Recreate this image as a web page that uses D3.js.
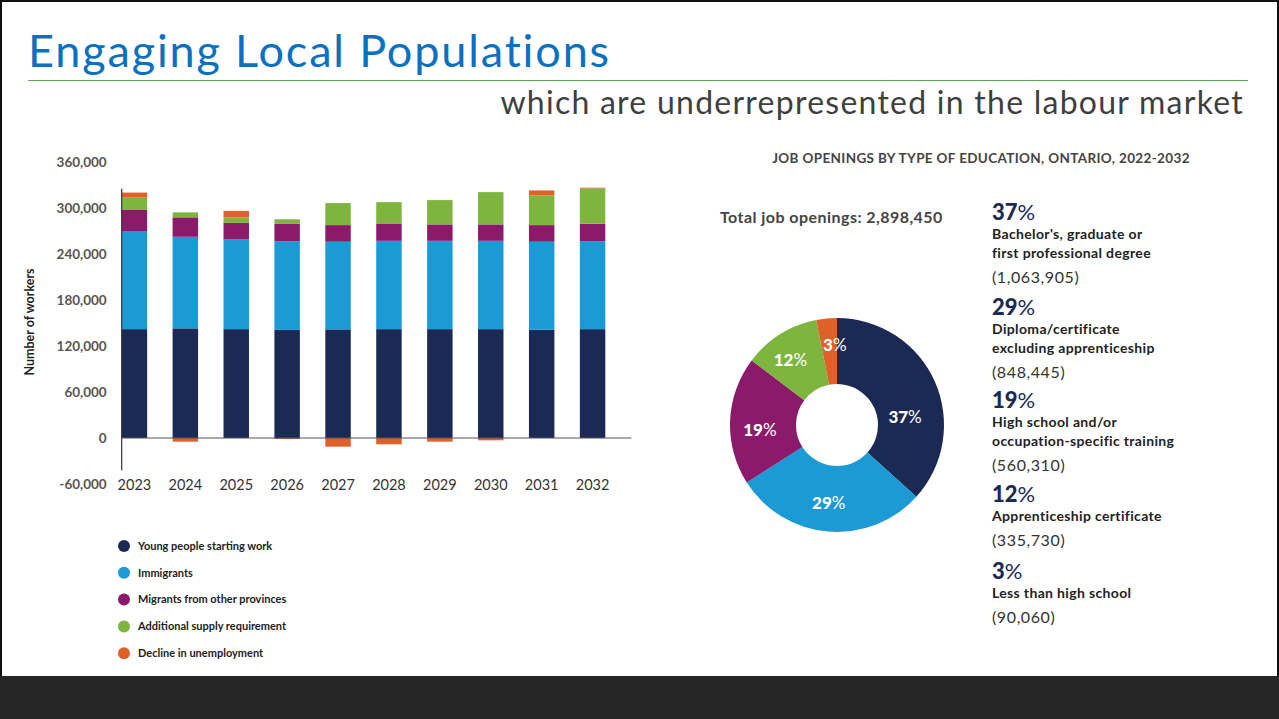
<!DOCTYPE html>
<html><head><meta charset="utf-8">
<script src="https://cdn.jsdelivr.net/npm/d3@7"></script>
<style>
html,body{margin:0;padding:0;background:#fff;}
svg{display:block;}
text{font-family:Lato,"Open Sans",sans-serif;}
</style></head>
<body>
<svg id="chart" width="1279" height="719"></svg>
<script>
// ---- Bar chart data (Number of workers) ----
const years = ["2023","2024","2025","2026","2027","2028","2029","2030","2031","2032"];
const youngPeople = [142000,143000,142000,141000,141700,142000,142000,142000,141200,142000];
const immigrants  = [128000,119500,117000,115700,114300,115200,115200,115200,114800,114800];
const migrants    = [27400,25300,21600,23000,21700,22600,21400,21400,21700,22700];
const additional  = [16200,6500,7000,5600,28700,27800,31700,42100,38700,46000];
const declineUnemp= [6500,-4800,8600,-1300,-11300,-8200,-4800,-3000,6500,1000];
const seriesNames = ["Young people starting work","Immigrants","Migrants from other provinces","Additional supply requirement","Decline in unemployment"];
const seriesColors = ["#1b2a55","#1b9ad6","#8b1a6b","#7db53f","#e0602a"];
const yTickValues = [-60000,0,60000,120000,180000,240000,300000,360000];

// ---- Donut data ----
const eduNames = [["Bachelor's, graduate or","first professional degree"],["Diploma/certificate","excluding apprenticeship"],["High school and/or","occupation-specific training"],["Apprenticeship certificate"],["Less than high school"]];
const eduValues = [1063905,848445,560310,335730,90060];
const eduColors = ["#1b2a55","#1b9ad6","#8b1a6b","#7db53f","#e0602a"];
// label placement tweaks (degrees added to mid-angle, label radius)
const labelAngleShift = [17.5, 1.2, -5.8, -3.6, 4];
const labelRadius = [68.5, 78.5, 77.2, 80, 80];

const svg = d3.select("#chart");
const fmt = v => d3.format(",")(v).replace("\u2212","-");

// slide frame
svg.append("rect").attr("x",1).attr("y",1).attr("width",1277).attr("height",717).attr("fill","#fff").attr("stroke","#111").attr("stroke-width",2);
svg.append("rect").attr("x",0).attr("y",676).attr("width",1279).attr("height",43).attr("fill","#262626");

// titles
svg.append("text").attr("x",28).attr("y",67).attr("fill","#0a70c0").attr("font-size",45).attr("font-weight",400)
  .attr("letter-spacing",1.85).text("Engaging Local Populations");
svg.append("line").attr("x1",28).attr("x2",1248).attr("y1",80.5).attr("y2",80.5).attr("stroke","#5aa85a").attr("stroke-width",1.2);
svg.append("text").attr("x",1244).attr("y",114).attr("text-anchor","end").attr("fill","#3f3f3f").attr("font-size",32)
  .attr("letter-spacing",1.25).text("which are underrepresented in the labour market");

// ---- stacked bar chart ----
const rows = years.map((yr,i)=>({year:yr, s0:youngPeople[i], s1:immigrants[i], s2:migrants[i], s3:additional[i], s4:declineUnemp[i]}));
const keys = ["s0","s1","s2","s3","s4"];
const stacked = d3.stack().keys(keys).offset(d3.stackOffsetDiverging)(rows);

const y = d3.scaleLinear().domain([-60000,360000]).range([484,162]);
const x = d3.scaleBand().domain(years).range([121.7, 605.3]).paddingInner(0.5).paddingOuter(0).align(0);

const bars = svg.append("g");
stacked.forEach((s,k)=>{
  bars.append("g").attr("fill",seriesColors[k]).selectAll("rect").data(s).join("rect")
    .attr("x",d=>x(d.data.year)).attr("width",x.bandwidth())
    .attr("y",d=>y(Math.max(d[0],d[1]))).attr("height",d=>Math.abs(y(d[0])-y(d[1])));
});

// axes
const yAxis = d3.axisLeft(y).tickValues(yTickValues).tickFormat(fmt).tickSize(0).tickPadding(15);
const gy = svg.append("g").attr("transform",`translate(${x.range()[0]},0)`).call(yAxis);
gy.select(".domain").remove();
gy.selectAll("text").attr("font-size",13.5).attr("font-weight",700).attr("fill","#555").attr("font-family","Lato");
svg.append("line").attr("x1",x.range()[0]).attr("x2",x.range()[0]).attr("y1",y(325000)).attr("y2",y(-42000)).attr("stroke","#333").attr("stroke-width",1.2);
svg.append("line").attr("x1",x.range()[0]).attr("x2",x.range()[1]+26).attr("y1",y(0)).attr("y2",y(0)).attr("stroke","#555").attr("stroke-width",1);

const xAxis = d3.axisBottom(x).tickSize(0).tickPadding(0);
const gx = svg.append("g").attr("transform",`translate(0,${y(-60000)+1})`).call(xAxis);
gx.select(".domain").remove();
gx.selectAll("text").attr("dy","0.35em").attr("font-size",14.5).attr("fill","#333").attr("font-family","Lato");

svg.append("text").attr("transform","translate(34,322) rotate(-90)").attr("text-anchor","middle")
  .attr("font-size",12.5).attr("font-weight",700).attr("fill","#222").text("Number of workers");

// legend
const leg = svg.append("g").attr("transform","translate(124,546)");
seriesNames.forEach((n,i)=>{
  const g = leg.append("g").attr("transform",`translate(0,${i*26.8})`);
  g.append("circle").attr("r",6).attr("fill",seriesColors[i]);
  g.append("text").attr("x",14).attr("dy","0.35em").attr("font-size",11).attr("font-weight",700).attr("fill","#222").text(n);
});

// ---- donut ----
svg.append("text").attr("x",981).attr("y",163).attr("text-anchor","middle").attr("font-size",13.5).attr("font-weight",700).attr("fill","#444")
  .attr("letter-spacing",0.35).text("JOB OPENINGS BY TYPE OF EDUCATION, ONTARIO, 2022-2032");
svg.append("text").attr("x",720).attr("y",223).attr("font-size",16).attr("font-weight",700).attr("fill","#444")
  .attr("letter-spacing",0.45).text("Total job openings: " + fmt(d3.sum(eduValues)));

const total = d3.sum(eduValues);
const pie = d3.pie().sort(null).value(d=>d);
const arcs = pie(eduValues);
const arc = d3.arc().innerRadius(41).outerRadius(107);
const dg = svg.append("g").attr("transform","translate(837,425)");
dg.selectAll("path").data(arcs).join("path").attr("d",arc).attr("fill",(d,i)=>eduColors[i]);
dg.selectAll("text").data(arcs).join("text")
  .attr("transform",(d,i)=>{
    const a = (d.startAngle+d.endAngle)/2 + labelAngleShift[i]*Math.PI/180;
    return `translate(${labelRadius[i]*Math.sin(a)},${-labelRadius[i]*Math.cos(a)})`;
  })
  .attr("text-anchor","middle").attr("dy","0.35em")
  .attr("fill","#fff").attr("font-size",17).attr("font-weight",900)
  .each(function(d){
    const t=d3.select(this);
    t.append("tspan").text(Math.round(d.value/total*100));
    t.append("tspan").attr("font-weight",400).text("%");
  });

// ---- right-hand list ----
const list = svg.append("g").attr("transform","translate(992,0)");
const pctY = [220,315,408,502,579];
eduValues.forEach((v,i)=>{
  const y0 = pctY[i];
  const t = list.append("text").attr("y",y0).attr("font-size",22).attr("fill","#1b2a55").attr("font-weight",900);
  t.append("tspan").text(Math.round(v/total*100));
  t.append("tspan").attr("font-weight",400).text("%");
  eduNames[i].forEach((ln,j)=>{
    list.append("text").attr("y",y0+19+j*18.5).attr("font-size",14).attr("font-weight",700).attr("fill","#222")
      .attr("letter-spacing",0.35).text(ln);
  });
  list.append("text").attr("y",y0+19+(eduNames[i].length-1)*18.5+25).attr("font-size",16).attr("fill","#333")
    .attr("letter-spacing",0.6).text("(" + fmt(v) + ")");
});
</script>
</body></html>
